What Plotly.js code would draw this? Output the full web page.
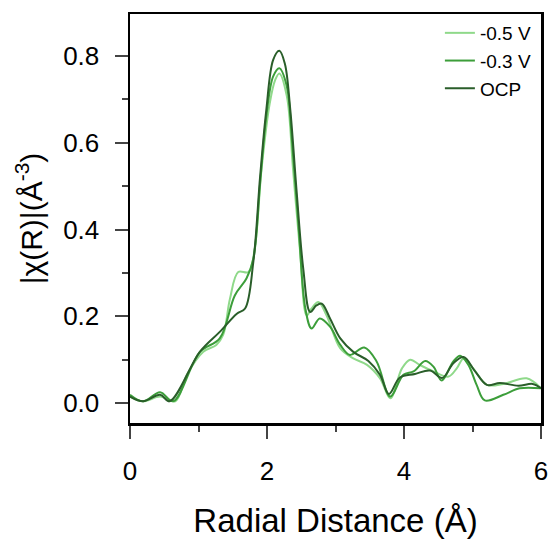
<!DOCTYPE html>
<html>
<head>
<meta charset="utf-8">
<script src="https://cdn.plot.ly/plotly-3.0.1.min.js"></script>
<style>html,body{margin:0;padding:0;background:#fff;}#chart{width:552px;height:542px;}</style>
</head>
<body>
<div id="chart"></div>
<script>
const seriesNames = ["-0.5 V", "-0.3 V", "OCP"];
const seriesColors = ["#8fd98a", "#3c9e3a", "#2a5e2a"];

const xM05 = [0.0, 0.19, 0.44, 0.66, 0.83, 1.07, 1.26, 1.36, 1.46, 1.58, 1.73, 1.82, 1.92, 2.04, 2.12, 2.18, 2.29, 2.38, 2.48, 2.58, 2.65, 2.75, 2.87, 3.07, 3.26, 3.46, 3.65, 3.80, 3.97, 4.09, 4.23, 4.43, 4.65, 4.77, 4.87, 5.01, 5.21, 5.45, 5.79, 6.0];
const yM05 = [0.015, 0.004, 0.015, 0.004, 0.065, 0.118, 0.134, 0.157, 0.241, 0.302, 0.302, 0.355, 0.539, 0.691, 0.745, 0.760, 0.707, 0.539, 0.355, 0.202, 0.218, 0.233, 0.202, 0.126, 0.103, 0.088, 0.057, 0.011, 0.080, 0.100, 0.088, 0.073, 0.061, 0.080, 0.103, 0.080, 0.042, 0.044, 0.057, 0.034];

const xM03 = [0.0, 0.19, 0.44, 0.63, 1.02, 1.31, 1.53, 1.70, 1.80, 1.90, 1.99, 2.09, 2.18, 2.29, 2.36, 2.46, 2.56, 2.65, 2.77, 2.92, 3.07, 3.21, 3.42, 3.60, 3.80, 3.99, 4.14, 4.31, 4.43, 4.55, 4.72, 4.82, 4.94, 5.06, 5.18, 5.45, 5.69, 6.0];
const yM03 = [0.019, 0.004, 0.025, 0.004, 0.118, 0.149, 0.248, 0.287, 0.332, 0.508, 0.661, 0.753, 0.772, 0.730, 0.615, 0.409, 0.218, 0.172, 0.195, 0.176, 0.134, 0.111, 0.128, 0.096, 0.015, 0.065, 0.073, 0.097, 0.084, 0.052, 0.096, 0.109, 0.088, 0.042, 0.006, 0.019, 0.034, 0.034];

const xOCP = [0.0, 0.19, 0.44, 0.58, 1.02, 1.31, 1.56, 1.68, 1.80, 1.90, 1.99, 2.09, 2.18, 2.26, 2.34, 2.43, 2.53, 2.63, 2.72, 2.80, 2.92, 3.07, 3.26, 3.48, 3.65, 3.78, 3.94, 4.16, 4.38, 4.56, 4.72, 4.87, 5.03, 5.21, 5.40, 5.67, 5.88, 6.0];
const yOCP = [0.015, 0.004, 0.019, 0.004, 0.118, 0.164, 0.206, 0.218, 0.325, 0.523, 0.676, 0.791, 0.812, 0.783, 0.676, 0.493, 0.309, 0.210, 0.225, 0.229, 0.195, 0.149, 0.118, 0.097, 0.065, 0.021, 0.059, 0.067, 0.075, 0.058, 0.092, 0.106, 0.075, 0.042, 0.046, 0.040, 0.044, 0.034];

const xs = [xM05, xM03, xOCP];
const ys = [yM05, yM03, yOCP];

const xTickVals = [0, 2, 4, 6];
const xTickText = ["0", "2", "4", "6"];
const yTickVals = [0, 0.2, 0.4, 0.6, 0.8];
const yTickText = ["0.0", "0.2", "0.4", "0.6", "0.8"];

const traces = seriesNames.map((n, i) => ({
  x: xs[i], y: ys[i], name: n, type: 'scatter', mode: 'lines',
  line: {color: seriesColors[i], width: 2, shape: 'spline', smoothing: 1}
}));

const font = "Arial, 'Liberation Sans', sans-serif";
const layout = {
  width: 552, height: 542,
  margin: {l: 130, r: 11, t: 14, b: 119},
  paper_bgcolor: '#fff', plot_bgcolor: '#fff',
  font: {family: font, color: '#000'},
  showlegend: true,
  legend: {x: 0.99, xanchor: 'right', y: 1.0, yanchor: 'top', bgcolor: 'rgba(0,0,0,0)',
           font: {size: 19, family: font}, tracegroupgap: 0, itemwidth: 30},
  xaxis: {
    range: [0, 6], tickvals: xTickVals, ticktext: xTickText,
    ticks: 'outside', ticklen: 13, tickwidth: 2, showline: true, linewidth: 2.5, linecolor: '#000',
    mirror: true, showgrid: false, zeroline: false, tickfont: {size: 26}, ticklabelstandoff: 10,
    minor: {tickvals: [1, 3, 5], ticks: 'outside', ticklen: 6, tickwidth: 2, showgrid: false},
    title: {text: 'Radial Distance (Å)', font: {size: 33}, standoff: 24}
  },
  yaxis: {
    range: [-0.046, 0.897], tickvals: yTickVals, ticktext: yTickText,
    ticks: 'outside', ticklen: 13, tickwidth: 2, showline: true, linewidth: 2.5, linecolor: '#000',
    mirror: true, showgrid: false, zeroline: false, tickfont: {size: 26}, ticklabelstandoff: 10,
    minor: {tickvals: [0.1, 0.3, 0.5, 0.7], ticks: 'outside', ticklen: 6, tickwidth: 2, showgrid: false},
    title: {text: '|χ(R)|(Å<sup>-3</sup>)', font: {size: 30}, standoff: 12}
  }
};
Plotly.newPlot('chart', traces, layout, {displayModeBar: false, staticPlot: true});
</script>
</body>
</html>
